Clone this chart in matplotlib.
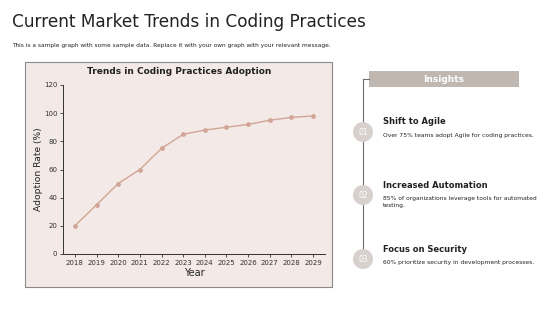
import matplotlib
matplotlib.use("Agg")
import matplotlib.pyplot as plt
from matplotlib.patches import Rectangle, Ellipse
from matplotlib.lines import Line2D

years = [2018, 2019, 2020, 2021, 2022, 2023, 2024, 2025, 2026, 2027, 2028, 2029]
adoption = [20, 35, 50, 60, 75, 85, 88, 90, 92, 95, 97, 98]
yticks = [0, 20, 40, 60, 80, 100, 120]

insight_titles = ["Shift to Agile", "Increased Automation", "Focus on Security"]
insight_texts = ["Over 75% teams adopt Agile for coding practices.",
                 "85% of organizations leverage tools for automated\ntesting.",
                 "60% prioritize security in development processes."]
insight_nums = ["01", "02", "03"]

W, H = 560, 315
fig = plt.figure(figsize=(W / 100, H / 100), dpi=100)
fig.patch.set_facecolor("white")

def fx(x):
    return x / W

def fy(y):
    return 1 - y / H

# Title and subtitle
fig.text(fx(12), fy(22), "Current Market Trends in Coding Practices", fontsize=12.2,
         color="#222222", ha="left", va="center")
fig.text(fx(12), fy(45), "This is a sample graph with some sample data. Replace it with your own graph with your relevant message.",
         fontsize=4.2, color="#222222", ha="left", va="center")

# Chart panel background
bg = "#f3e9e6"
fig.patches.append(Rectangle((fx(25), fy(287)), fx(332) - fx(25), fy(62) - fy(287),
                             transform=fig.transFigure, facecolor=bg, edgecolor="#8a8a8a",
                             linewidth=0.8, zorder=-1))

ax = fig.add_axes([fx(63), fy(254), fx(325) - fx(63), fy(85) - fy(254)])
ax.set_zorder(2)
ax.patch.set_alpha(0)
ax.plot(years, adoption, color="#d2a596", linewidth=1.0, marker="o", markersize=2.4,
        markerfacecolor="#d2a596", markeredgecolor="#d2a596")
ax.set_xlim(2017.45, 2029.55)
ax.set_ylim(0, 120)
ax.set_xticks(years)
ax.set_xticklabels([str(y) for y in years])
ax.set_yticks(yticks)
ax.tick_params(labelsize=5, length=2, width=0.6, color="#333333", labelcolor="#333333", pad=2)
for s in ["top", "right"]:
    ax.spines[s].set_visible(False)
for s in ["left", "bottom"]:
    ax.spines[s].set_linewidth(0.7)
    ax.spines[s].set_color("#333333")
ax.set_xlabel("Year", fontsize=7, color="#222222", labelpad=2)
ax.set_ylabel("Adoption Rate (%)", fontsize=6.6, color="#222222", labelpad=1)
fig.text(fx(179), fy(72), "Trends in Coding Practices Adoption", fontsize=6.5,
         fontweight="bold", ha="center", va="center", color="#222222", zorder=3)

# Insights panel
fig.patches.append(Rectangle((fx(369), fy(87)), fx(519) - fx(369), fy(71) - fy(87),
                             transform=fig.transFigure, facecolor="#c1b7b1", edgecolor="none"))
fig.text(fx(444), fy(79), "Insights", fontsize=6.5, fontweight="bold", color="white",
         ha="center", va="center")
fig.lines.append(Line2D([fx(363), fx(363)], [fy(79), fy(255)], transform=fig.transFigure,
                        color="#6e6e6e", linewidth=0.8))
fig.lines.append(Line2D([fx(363), fx(369)], [fy(79), fy(79)], transform=fig.transFigure,
                        color="#6e6e6e", linewidth=0.8))

circ_y = [132, 195, 259]
title_y = [121, 185, 250]
text_y = [136, 199, 263]
for i in range(3):
    r = 10
    fig.patches.append(Ellipse((fx(363), fy(circ_y[i])), 2 * r / W, 2 * r / H,
                               transform=fig.transFigure, facecolor="#d8d0cc",
                               edgecolor="none", zorder=3))
    fig.text(fx(363), fy(circ_y[i]), insight_nums[i], fontsize=5.5, color="white",
             ha="center", va="center", zorder=4)
    fig.text(fx(383), fy(title_y[i]), insight_titles[i], fontsize=6, fontweight="bold",
             color="#222222", ha="left", va="center")
    fig.text(fx(383), fy(text_y[i] - 3), insight_texts[i], fontsize=4.3, color="#222222",
             ha="left", va="top", linespacing=1.45)

fig.savefig("out.png", dpi=100)
